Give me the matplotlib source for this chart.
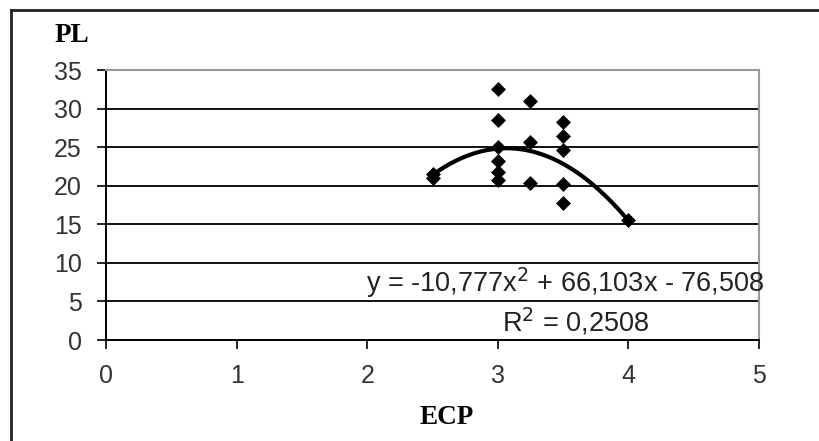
import numpy as np
import matplotlib
matplotlib.use("Agg")
import matplotlib.pyplot as plt
from matplotlib.lines import Line2D

# data
ecp = [2.5, 2.5, 3, 3, 3, 3, 3, 3, 3.25, 3.25, 3.25, 3.5, 3.5, 3.5, 3.5, 3.5, 4]
pl = [21.0, 21.5, 32.5, 28.5, 25.0, 23.2, 21.8, 20.7, 31.0, 25.7, 20.3, 28.3, 26.5, 24.6, 20.2, 17.7, 15.5]

# trendline coefficients shown on the chart
trend_coef = [-10.777, 66.103, -76.508]
trend_label = "y = -10,777x$^2$ + 66,103x - 76,508"
r2_label = "R$^2$ = 0,2508"

x_ticks = [0, 1, 2, 3, 4, 5]
y_ticks = [0, 5, 10, 15, 20, 25, 30, 35]

W, H = 820, 441
fig = plt.figure(figsize=(W / 100, H / 100), dpi=100)
ax = fig.add_axes([106 / W, 1 - 340 / H, (759 - 106) / W, (340 - 70) / H])

sans = ["Liberation Sans", "DejaVu Sans"]
serif = ["Liberation Serif", "DejaVu Serif"]

ax.set_xlim(0, 5)
ax.set_ylim(0, 35)
ax.set_xticks(x_ticks)
ax.set_yticks(y_ticks)
ax.set_xticklabels([str(t) for t in x_ticks], family=sans, fontsize=18, color="#333333")
ax.set_yticklabels([str(t) for t in y_ticks], family=sans, fontsize=18, color="#333333")
ax.tick_params(axis="both", direction="out", length=6.5, width=1.2, color="black")
ax.tick_params(axis="x", pad=10.5)
ax.tick_params(axis="y", pad=11)

for y in y_ticks[1:]:
    ax.axhline(y, color="#111111", lw=1.4, zorder=1)

for side in ["top", "right"]:
    ax.spines[side].set_color("#999999")
    ax.spines[side].set_linewidth(1.5)
ax.spines["left"].set_color("black")
ax.spines["left"].set_linewidth(1.4)
ax.spines["bottom"].set_color("black")
ax.spines["bottom"].set_linewidth(1.4)

ax.scatter(ecp, pl, marker="D", s=58, color="black", zorder=3, linewidths=0)

xs = np.linspace(min(ecp), max(ecp), 100)
ax.plot(xs, np.polyval(trend_coef, xs), color="black", lw=3, zorder=4)

ax.text(3.515, 7.4, trend_label, family=sans, fontsize=19.5, ha="center", va="center",
        color="#222222", clip_on=False)
ax.text(3.6, 2.4, r2_label, family=sans, fontsize=19.5, ha="center", va="center", color="#222222")

fig.text(72 / W, 1 - 35 / H, "PL", family=serif, fontsize=19.5, fontweight="bold", ha="center", va="center")
fig.text(447 / W, 1 - 418 / H, "ECP", family=serif, fontsize=19.5, fontweight="bold", ha="center", va="center")

# outer frame
fig.add_artist(Line2D([11 / W, 11 / W], [0, 1 - 10 / H], transform=fig.transFigure, color="#222222", lw=2))
fig.add_artist(Line2D([11 / W, 1], [1 - 10 / H, 1 - 10 / H], transform=fig.transFigure, color="#222222", lw=2))

fig.savefig("out.png", dpi=100)
